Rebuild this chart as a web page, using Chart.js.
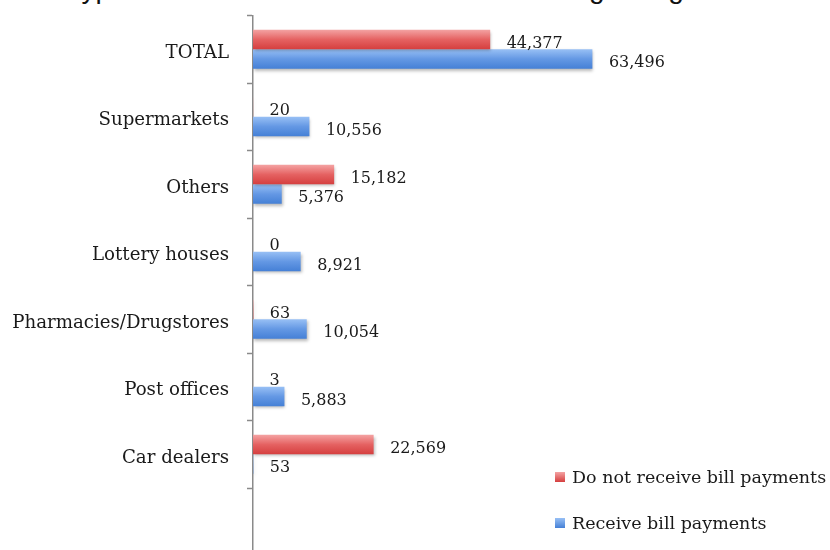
<!DOCTYPE html>
<html>
<head>
<meta charset="utf-8">
<script src="https://cdn.jsdelivr.net/npm/chart.js@4.4.1/dist/chart.umd.min.js"></script>
<style>
  html, body { margin: 0; padding: 0; background: #fff; overflow: hidden; }
  #wrap { position: relative; width: 830px; height: 550px; overflow: hidden; }
  #title {
    position: absolute; left: 66px; top: -25px;
    font: 28px/28px "Liberation Sans", Arial, sans-serif; color: #111;
    white-space: nowrap;
  }
  #chart { position: absolute; left: 0; top: 0; }
  #legend { position: absolute; left: 555px; top: 464px; font: 17.5px "DejaVu Serif", serif; color: #1a1a1a; }
  #legend .row { height: 46px; line-height: 26px; white-space: nowrap; }
  #legend .box { display: inline-block; width: 10px; height: 10px; margin-right: 7px; vertical-align: 1px; }
</style>
</head>
<body>
<div id="wrap">
  <div id="title">Types of establishments that are also doing billing</div>
  <canvas id="chart" width="830" height="560"></canvas>
  <div id="legend"></div>
</div>
<script>
var categories = ["TOTAL", "Supermarkets", "Others", "Lottery houses", "Pharmacies/Drugstores", "Post offices", "Car dealers", ""]
var notReceive = [44377, 20, 15182, 0, 63, 3, 22569, null]
var receive = [63496, 10556, 5376, 8921, 10054, 5883, 53, null]
var seriesNames = ["Do not receive bill payments", "Receive bill payments"]

var barShare = 0.578
var shades = [
  ["#f4a3a3", "#e56262", "#d53f3f"],
  ["#98c0f5", "#6498e4", "#4580d6"]
]

// vertical gradient per bar, worked out from the category slot
function barFill(which){
  return function(ctx){
    var chart = ctx.chart
    var sc = chart.scales.y
    if(!sc || ctx.type !== 'data') return shades[which][1]
    var c = sc.getPixelForValue(ctx.dataIndex)
    var h = Math.abs(sc.getPixelForValue(1) - sc.getPixelForValue(0)) * barShare / 2
    if(!isFinite(c) || !isFinite(h) || h <= 0) return shades[which][1]
    var top = which === 0 ? c - h : c
    var g = chart.ctx.createLinearGradient(0, top, 0, top + h)
    g.addColorStop(0, shades[which][0])
    g.addColorStop(0.5, shades[which][1])
    g.addColorStop(1, shades[which][2])
    return g
  }
}

var barShadow = {
  id: 'barShadow',
  beforeDatasetDraw: function(chart){
    var c = chart.ctx
    c.save()
    c.shadowColor = 'rgba(0,0,0,0.28)'
    c.shadowBlur = 3
    c.shadowOffsetX = 1
    c.shadowOffsetY = 2
  },
  afterDatasetDraw: function(chart){
    chart.ctx.restore()
  }
}

var valueLabels = {
  id: 'valueLabels',
  afterDatasetsDraw: function(chart){
    var c = chart.ctx
    c.save()
    c.font = '16px "DejaVu Serif", serif'
    c.fillStyle = '#1a1a1a'
    c.textAlign = 'left'
    c.textBaseline = 'middle'
    chart.data.datasets.forEach(function(ds, i){
      chart.getDatasetMeta(i).data.forEach(function(bar, j){
        var v = ds.data[j]
        if(v === null) return
        c.fillText(v.toLocaleString('en-US'), bar.x + 16.5, bar.y + 4)
      })
    })
    c.restore()
  }
}

var chart = new Chart(document.getElementById("chart"), {
  type: 'bar',
  data: {
    labels: categories,
    datasets: [
      { label: seriesNames[0], data: notReceive, backgroundColor: barFill(0) },
      { label: seriesNames[1], data: receive, backgroundColor: barFill(1) }
    ]
  },
  options: {
    indexAxis: 'y',
    responsive: false,
    animation: false,
    categoryPercentage: barShare,
    barPercentage: 1,
    layout: { padding: { top: 15.5, right: 42.5, bottom: 4.5, left: 0 } },
    plugins: {
      legend: { display: false },
      title: { display: false },
      tooltip: { enabled: false }
    },
    scales: {
      x: { type: 'linear', display: false, min: 0, max: 100000 },
      y: {
        type: 'category',
        afterFit: function(scale){
          scale.width = 253
          scale.paddingTop = 0
          scale.paddingBottom = 0
        },
        border: { display: true, color: '#8a8a8a', width: 1.5 },
        grid: {
          drawOnChartArea: false,
          offset: true,
          tickLength: 6,
          tickWidth: 1.5,
          tickColor: '#8a8a8a'
        },
        ticks: {
          font: { family: '"DejaVu Serif", serif', size: 18.2 },
          color: '#1a1a1a',
          padding: 18,
          labelOffset: 4
        }
      }
    }
  },
  plugins: [barShadow, valueLabels]
})

// legend on the lower right
var legendHtml = ""
seriesNames.forEach(function(name, i){
  legendHtml += '<div class="row"><span class="box" style="background:linear-gradient(' +
    shades[i][0] + ',' + shades[i][2] + ')"></span>' + name + '</div>'
})
document.getElementById("legend").innerHTML = legendHtml
</script>
</body>
</html>
